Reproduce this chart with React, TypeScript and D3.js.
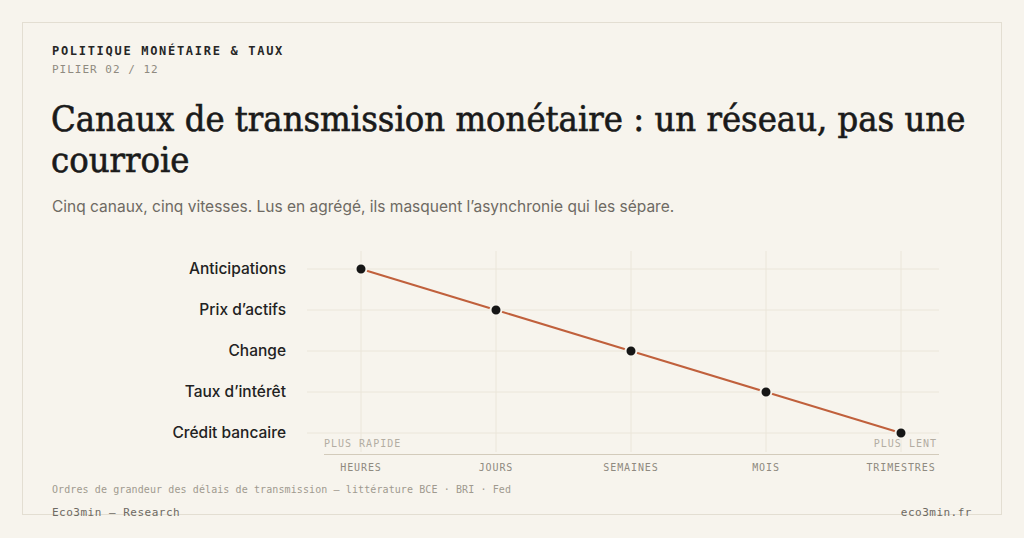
import React, { useEffect, useRef } from "react";
import * as d3 from "d3";

// channels, fastest to slowest
const channels = [
	"Anticipations",
	"Prix d’actifs",
	"Change",
	"Taux d’intérêt",
	"Crédit bancaire",
];
const horizons = ["HEURES", "JOURS", "SEMAINES", "MOIS", "TRIMESTRES"];
// horizon reached by each channel
const channelHorizon = ["HEURES", "JOURS", "SEMAINES", "MOIS", "TRIMESTRES"];

const kicker = "POLITIQUE MONÉTAIRE & TAUX";
const pillar = "PILIER 02 / 12";
const titleLines = [
	"Canaux de transmission monétaire : un réseau, pas une",
	"courroie",
];
const subtitle =
	"Cinq canaux, cinq vitesses. Lus en agrégé, ils masquent l’asynchronie qui les sépare.";
const note =
	"Ordres de grandeur des délais de transmission — littérature BCE · BRI · Fed";

const W = 1024;
const H = 538;
const BG = "#f7f4ed";
const MONO = "'DejaVu Sans Mono', 'Liberation Mono', monospace";
const SANS = "Inter, 'Noto Sans', sans-serif";
const SERIF = "'DejaVu Serif', serif";

const App: React.FC = () => {
	const ref = useRef<SVGSVGElement>(null);

	useEffect(() => {
		const svg = d3.select(ref.current);
		svg.selectAll("*").remove();

		svg.append("rect").attr("width", W).attr("height", H).attr("fill", BG);
		svg
			.append("rect")
			.attr("x", 22.5)
			.attr("y", 22.5)
			.attr("width", 979)
			.attr("height", 492)
			.attr("fill", BG)
			.attr("stroke", "#e3ded2")
			.attr("stroke-width", 1);

		// header
		svg
			.append("text")
			.attr("x", 52)
			.attr("y", 55)
			.attr("font-family", MONO)
			.attr("font-weight", 700)
			.attr("font-size", 12)
			.attr("letter-spacing", "1.7px")
			.attr("fill", "#262626")
			.text(kicker);
		svg
			.append("text")
			.attr("x", 52)
			.attr("y", 73)
			.attr("font-family", MONO)
			.attr("font-size", 11)
			.attr("letter-spacing", "1px")
			.attr("fill", "#8f8a80")
			.text(pillar);

		titleLines.forEach((line, i) => {
			svg
				.append("text")
				.attr("x", 51)
				.attr("y", 131 + i * 41)
				.attr("font-family", SERIF)
				.attr("font-stretch", "condensed")
				.attr("font-size", 36)
				.attr("fill", "#1a1a1a")
				.attr("stroke", "#1a1a1a")
				.attr("stroke-width", 0.6)
				.text(line);
		});

		svg
			.append("text")
			.attr("x", 52)
			.attr("y", 212)
			.attr("font-family", SANS)
			.attr("font-size", 15.5)
			.attr("fill", "#6e6a63")
			.text(subtitle);

		// chart
		const x = d3.scalePoint<string>().domain(horizons).range([361, 901]);
		const y = d3.scalePoint<string>().domain(channels).range([269, 433]);

		const grid = svg.append("g").attr("stroke", "#ebe6da").attr("stroke-width", 1);
		horizons.forEach((h) => {
			grid
				.append("line")
				.attr("x1", x(h)!)
				.attr("x2", x(h)!)
				.attr("y1", 251)
				.attr("y2", 452);
		});
		channels.forEach((c) => {
			grid
				.append("line")
				.attr("x1", 307)
				.attr("x2", 939)
				.attr("y1", y(c)!)
				.attr("y2", y(c)!);
		});

		// y labels
		svg
			.append("g")
			.selectAll("text")
			.data(channels)
			.join("text")
			.attr("x", 286)
			.attr("y", (d) => y(d)!)
			.attr("dy", "0.35em")
			.attr("text-anchor", "end")
			.attr("font-family", SANS)
			.attr("font-size", 15.5)
			.attr("font-weight", 500)
			.attr("fill", "#222")
			.text((d) => d);

		// x axis
		svg
			.append("line")
			.attr("x1", 324)
			.attr("x2", 939)
			.attr("y1", 454.5)
			.attr("y2", 454.5)
			.attr("stroke", "#d3cbbb")
			.attr("stroke-width", 1.2);
		svg
			.append("g")
			.selectAll("text")
			.data(horizons)
			.join("text")
			.attr("x", (d) => x(d)!)
			.attr("y", 471)
			.attr("text-anchor", "middle")
			.attr("font-family", MONO)
			.attr("font-size", 10)
			.attr("letter-spacing", "0.9px")
			.attr("fill", "#8f8a80")
			.text((d) => d);

		svg
			.append("text")
			.attr("x", 324)
			.attr("y", 447)
			.attr("font-family", MONO)
			.attr("font-size", 10)
			.attr("letter-spacing", "1px")
			.attr("fill", "#b3ada2")
			.text("PLUS RAPIDE");
		svg
			.append("text")
			.attr("x", 937)
			.attr("y", 447)
			.attr("text-anchor", "end")
			.attr("font-family", MONO)
			.attr("font-size", 10)
			.attr("letter-spacing", "1px")
			.attr("fill", "#b3ada2")
			.text("PLUS LENT");

		const pts = channels.map((c, i) => ({ c, h: channelHorizon[i] }));
		const line = d3
			.line<{ c: string; h: string }>()
			.x((d) => x(d.h)!)
			.y((d) => y(d.c)!);

		svg
			.append("path")
			.datum(pts)
			.attr("d", line)
			.attr("fill", "none")
			.attr("stroke", "#c0603c")
			.attr("stroke-width", 2);

		svg
			.append("g")
			.selectAll("circle")
			.data(pts)
			.join("circle")
			.attr("cx", (d) => x(d.h)!)
			.attr("cy", (d) => y(d.c)!)
			.attr("r", 5.5)
			.attr("fill", "#161616")
			.attr("stroke", BG)
			.attr("stroke-width", 2);

		// footer
		svg
			.append("text")
			.attr("x", 52)
			.attr("y", 493)
			.attr("font-family", MONO)
			.attr("font-size", 10)
			.attr("letter-spacing", "0.1px")
			.attr("fill", "#a09a8f")
			.text(note);
		svg
			.append("text")
			.attr("x", 52)
			.attr("y", 516)
			.attr("font-family", MONO)
			.attr("font-size", 11)
			.attr("letter-spacing", "0.5px")
			.attr("fill", "#6e6a63")
			.text("Eco3min — Research");
		svg
			.append("text")
			.attr("x", 972)
			.attr("y", 516)
			.attr("text-anchor", "end")
			.attr("font-family", MONO)
			.attr("font-size", 11)
			.attr("letter-spacing", "0.5px")
			.attr("fill", "#6e6a63")
			.text("eco3min.fr");
	}, []);

	return (
		<svg
			ref={ref}
			width={W}
			height={H}
			viewBox={`0 0 ${W} ${H}`}
			style={{ position: "absolute", left: 0, top: 0, display: "block" }}
		/>
	);
};

export default App;
